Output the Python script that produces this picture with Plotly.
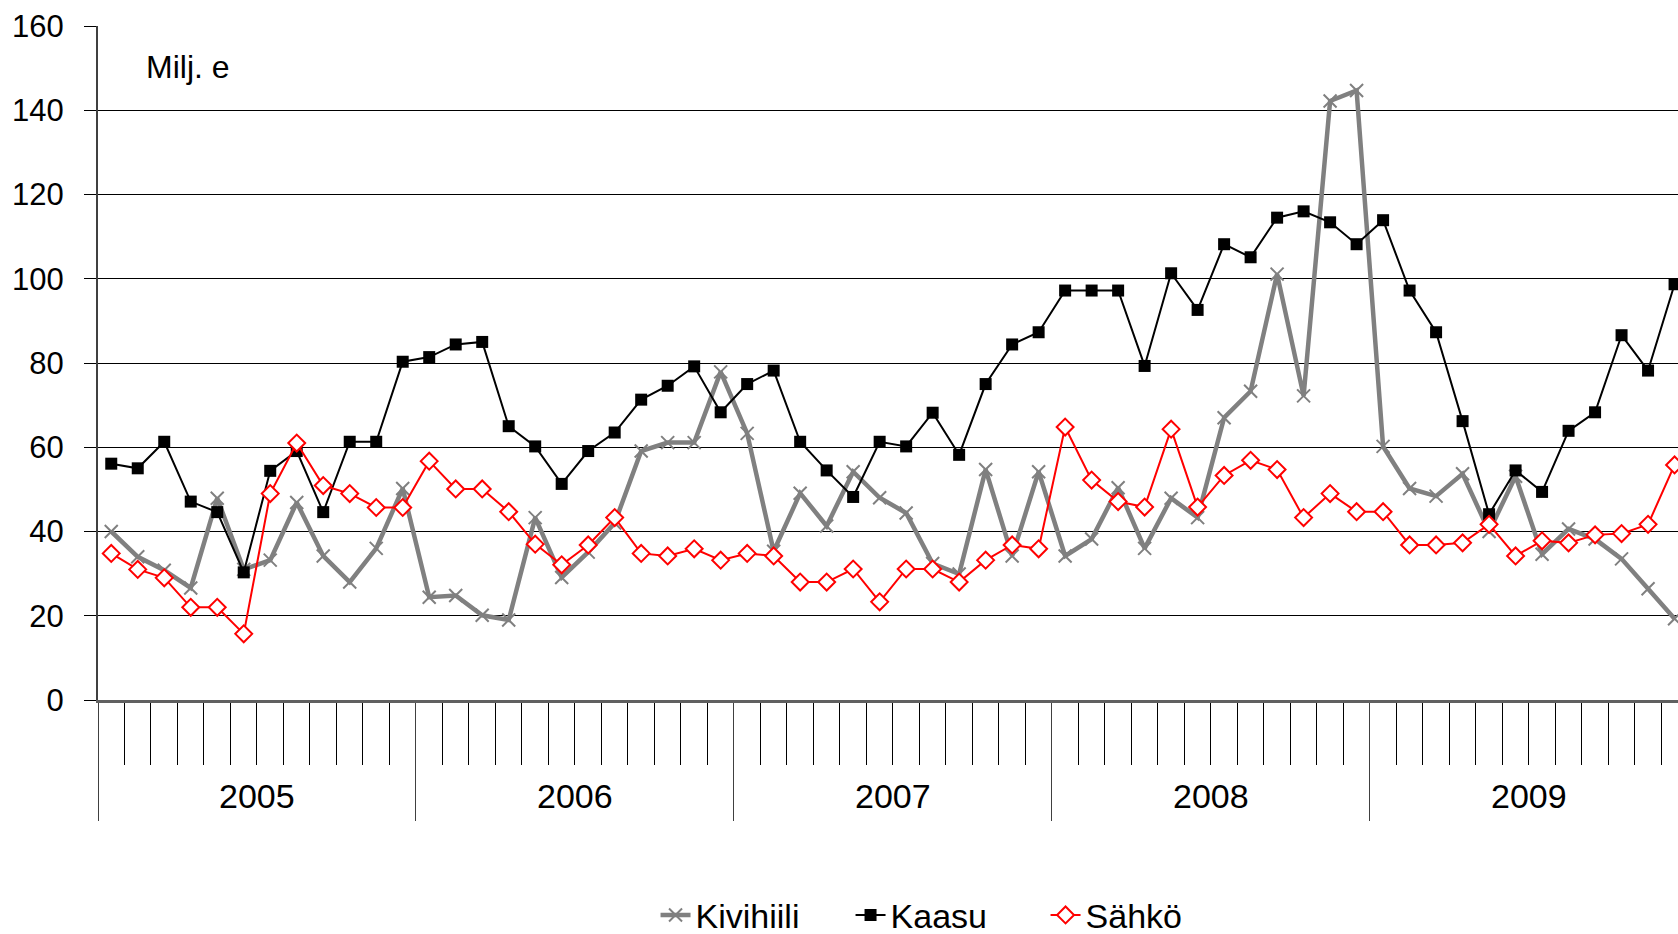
import plotly.graph_objects as go

years = ['2005', '2006', '2007', '2008', '2009']
months = list(range(60))

kivihiili = [
    40.0, 34.0, 30.8, 26.6, 47.9, 31.0, 33.2, 46.9, 34.2, 28.0, 36.0, 50.2,
    24.4, 24.8, 20.1, 19.0, 43.3, 29.1, 35.1, 42.0, 59.1, 61.1, 61.1, 77.9,
    63.3, 35.3, 49.1, 41.3, 54.2, 48.0, 44.4, 32.4, 29.9, 54.7, 34.2, 54.2,
    34.2, 38.2, 50.4, 36.0, 47.9, 43.3, 67.0, 73.3, 101.1, 72.2, 142.2, 144.7,
    60.2, 50.2, 48.4, 53.7, 40.0, 53.1, 34.6, 40.6, 38.2, 33.5, 26.4, 19.3,
]
kaasu = [
    56.1, 55.0, 61.3, 47.1, 44.6, 30.3, 54.4, 59.1, 44.6, 61.3, 61.3, 80.3,
    81.4, 84.4, 85.0, 65.0, 60.2, 51.3, 59.1, 63.5, 71.3, 74.6, 79.2, 68.3,
    75.0, 78.2, 61.3, 54.5, 48.2, 61.3, 60.2, 68.2, 58.2, 75.0, 84.4, 87.3,
    97.2, 97.2, 97.2, 79.3, 101.3, 92.6, 108.2, 105.1, 114.5, 116.0, 113.4, 108.2,
    113.9, 97.2, 87.3, 66.2, 44.1, 54.5, 49.4, 63.9, 68.3, 86.6, 78.2, 98.7,
]
sahko = [
    34.8, 31.0, 29.0, 22.0, 22.0, 15.7, 49.0, 61.0, 50.9, 49.0, 45.7, 45.7,
    56.7, 50.1, 50.1, 44.7, 37.0, 32.1, 36.8, 43.3, 34.8, 34.2, 35.9, 33.2,
    34.8, 34.2, 28.0, 28.0, 31.1, 23.3, 31.1, 31.1, 28.0, 33.2, 36.8, 35.9,
    64.8, 52.2, 47.1, 45.8, 64.3, 45.8, 53.3, 56.9, 54.7, 43.3, 49.0, 44.7,
    44.7, 36.8, 36.8, 37.3, 41.7, 34.2, 37.8, 37.3, 39.2, 39.5, 41.7, 55.8,
]

font = 'Liberation Sans, Arial, sans-serif'

fig = go.Figure()
fig.add_trace(go.Scatter(
    x=months, y=kivihiili, name='Kivihiili', mode='lines+markers',
    line={'color': '#808080', 'width': 4.5},
    marker={'symbol': 'x-thin', 'size': 13, 'line': {'color': '#808080', 'width': 2}},
))
fig.add_trace(go.Scatter(
    x=months, y=kaasu, name='Kaasu', mode='lines+markers',
    line={'color': 'black', 'width': 2},
    marker={'symbol': 'square', 'size': 12, 'color': 'black'},
))
fig.add_trace(go.Scatter(
    x=months, y=sahko, name='Sähkö', mode='lines+markers',
    line={'color': '#ff0000', 'width': 2},
    marker={'symbol': 'diamond', 'size': 13, 'color': 'white',
            'line': {'color': '#ff0000', 'width': 2}},
))

# year boundaries (long ticks) and month boundaries (short minor ticks)
year_bounds = [12 * i - 0.5 for i in range(len(years) + 1)]
fig.update_xaxes(
    range=[-0.5, 59.13], automargin=False,
    tickmode='array', tickvals=year_bounds, ticktext=[''] * len(year_bounds),
    ticks='outside', ticklen=118, tickcolor='#404040', tickwidth=1,
    minor={'tickmode': 'linear', 'tick0': -0.5, 'dtick': 1, 'ticks': 'outside',
           'ticklen': 62, 'tickcolor': 'black', 'tickwidth': 1},
    showgrid=False, zeroline=False,
    showline=True, linecolor='#606060', linewidth=3,
)
fig.update_yaxes(
    range=[0, 160], dtick=20, tick0=0, automargin=False,
    ticks='outside', ticklen=12, tickcolor='black',
    showline=True, linecolor='#404040', linewidth=2,
    gridcolor='black', gridwidth=1, zeroline=False,
    tickfont={'family': font, 'size': 31, 'color': 'black'},
    ticklabelstandoff=14,
)

for i, yr in enumerate(years):
    fig.add_annotation(
        x=12 * i + 5.5, y=-0.1424, xref='x', yref='paper', text=yr,
        showarrow=False, yanchor='middle',
        font={'family': font, 'size': 34, 'color': 'black'},
    )
fig.add_annotation(
    x=0.0294, y=0.939, xref='paper', yref='paper', text='Milj. e',
    showarrow=False, xanchor='left', yanchor='middle',
    font={'family': font, 'size': 32, 'color': 'black'},
)

fig.update_layout(
    width=1678, height=934,
    margin={'l': 98, 'r': 0, 't': 26, 'b': 234},
    plot_bgcolor='white', paper_bgcolor='white',
    showlegend=True,
    legend={'orientation': 'h', 'x': 0.538, 'xanchor': 'center',
            'yref': 'container', 'y': 0.051, 'yanchor': 'top',
            'font': {'family': font, 'size': 34, 'color': 'black'},
            'itemwidth': 30, 'entrywidth': 150,
            'bgcolor': 'rgba(0,0,0,0)'},
)

fig.write_html(
    'out.html',
    config={'displayModeBar': False},
    post_script="document.body.style.margin='0';document.body.style.overflow='hidden';",
)
